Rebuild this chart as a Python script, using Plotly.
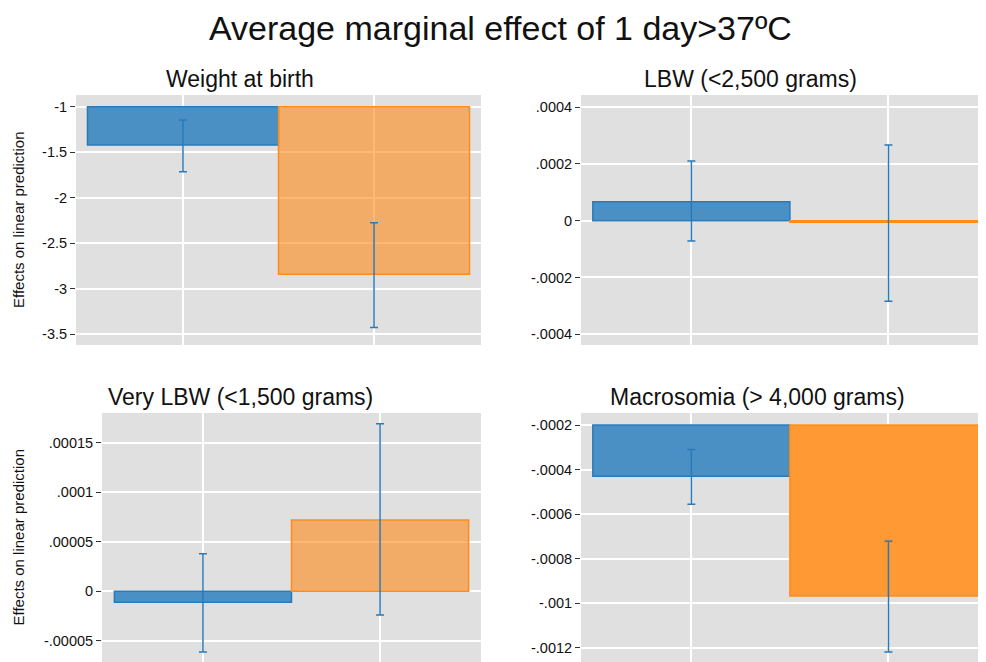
import plotly.graph_objects as go

# ---------------- data ----------------
panel_titles = ["Weight at birth", "LBW (<2,500 grams)",
                "Very LBW (<1,500 grams)", "Macrosomia (> 4,000 grams)"]
categories = [1, 2]

blue_est = [-1.421, 0.000067, -0.0000111, -0.00043]
blue_lo = [-1.714, -0.0000715, -0.0000614, -0.000555]
blue_hi = [-1.146, 0.000210, 0.0000377, -0.00031]

orange_est = [-2.839, -0.000005, 0.0000719, -0.000967]
orange_lo = [-3.424, -0.000284, -0.000024, -0.001218]
orange_hi = [-2.275, 0.000267, 0.0001692, -0.000721]

bar_base = [-1, 0, 0, -0.0002]

tick_vals = [
    [-1, -1.5, -2, -2.5, -3, -3.5],
    [0.0004, 0.0002, 0, -0.0002, -0.0004],
    [0.00015, 0.0001, 0.00005, 0, -0.00005],
    [-0.0002, -0.0004, -0.0006, -0.0008, -0.001, -0.0012],
]
tick_text = [
    ["-1", "-1.5", "-2", "-2.5", "-3", "-3.5"],
    [".0004", ".0002", "0", "-.0002", "-.0004"],
    [".00015", ".0001", ".00005", "0", "-.00005"],
    ["-.0002", "-.0004", "-.0006", "-.0008", "-.001", "-.0012"],
]

main_title = "Average marginal effect of 1 day>37ºC"
ytitle = "Effects on linear prediction"

# ---------------- layout / style ----------------
OFF = 8  # page body margin offset
W, H = 986 - OFF, 662 - OFF
FONT = "Liberation Sans, Arial, Helvetica, sans-serif"
BLUE_FILL = "#4a90c4"
BLUE_LINE = "#2a7ab8"
ERR_COLOR = "#2a7ab8"
ORANGE_LINE = "#ff8c1a"
orange_fill = ["rgba(255,140,30,0.62)", "rgba(255,140,30,0.62)",
               "rgba(255,140,30,0.62)", "#ff9933"]


def px(v):
    return v - OFF


# pixel boxes in screen coords (left, right, top, bottom)
boxes = [(76, 481, 95, 345), (581, 986, 95, 345),
         (102, 481, 413, 662), (581, 986, 413, 662)]
x_ranges = [[0.44, 2.56], [0.44, 2.495], [0.43, 2.57], [0.44, 2.495]]
y_ranges = [[-3.617, -0.872], [-0.000438, 0.000443],
            [-0.0000716, 0.00018], [-0.001263, -0.000146]]

fig = go.Figure()
layout = dict(
    width=W, height=H, margin=dict(l=0, r=0, t=0, b=0),
    paper_bgcolor="white", plot_bgcolor="#e0e0e0",
    showlegend=False, barmode="overlay",
    font=dict(family=FONT, color="#111111"),
)
annotations = []

for i in range(4):
    sfx = "" if i == 0 else str(i + 1)
    xa, ya = "x" + sfx, "y" + sfx
    l, r, t, b = [px(v) for v in boxes[i]]
    layout["xaxis" + sfx] = dict(
        domain=[l / W, min(r / W, 1)], range=x_ranges[i], anchor=ya,
        tickvals=categories, showticklabels=False, ticks="",
        showgrid=True, gridcolor="white", gridwidth=1.5,
        zeroline=False, showline=False, fixedrange=True,
    )
    layout["yaxis" + sfx] = dict(
        domain=[max(1 - b / H, 0), 1 - t / H], range=y_ranges[i], anchor=xa,
        tickvals=tick_vals[i], ticktext=tick_text[i],
        ticks="outside", ticklen=5, tickwidth=1, tickcolor="#333333",
        tickfont=dict(size=14.5, family=FONT, color="#111111"),
        showgrid=True, gridcolor="white", gridwidth=1.5,
        zeroline=False, showline=False, fixedrange=True,
    )
    base = bar_base[i]
    fig.add_trace(go.Bar(
        x=categories, y=[blue_est[i] - base, 0], base=[base, base],
        width=1, xaxis=xa, yaxis=ya,
        marker=dict(color=[BLUE_FILL, "rgba(0,0,0,0)"],
                    line=dict(color=[BLUE_LINE, "rgba(0,0,0,0)"], width=1.5)),
        hoverinfo="skip",
    ))
    fig.add_trace(go.Bar(
        x=[categories[1]], y=[orange_est[i] - base], base=[base],
        width=1, xaxis=xa, yaxis=ya,
        marker=dict(color=orange_fill[i],
                    line=dict(color=ORANGE_LINE, width=1.5)),
        hoverinfo="skip",
    ))
    est = [blue_est[i], orange_est[i]]
    lo = [blue_lo[i], orange_lo[i]]
    hi = [blue_hi[i], orange_hi[i]]
    fig.add_trace(go.Scatter(
        x=categories, y=est, mode="markers", xaxis=xa, yaxis=ya,
        marker=dict(size=1, opacity=0),
        error_y=dict(type="data", symmetric=False,
                     array=[h - e for h, e in zip(hi, est)],
                     arrayminus=[e - lo_ for e, lo_ in zip(est, lo)],
                     color=ERR_COLOR, thickness=1.5, width=4),
        hoverinfo="skip",
    ))

# subplot titles (screen coords: center x, vertical middle of text)
title_pos = [(240, 79), (750, 79), (240, 397), (757, 397)]
for i, (cx, cy) in enumerate(title_pos):
    annotations.append(dict(
        text=panel_titles[i], x=px(cx) / W, y=1 - px(cy) / H,
        xref="paper", yref="paper",
        xanchor="center", yanchor="middle", showarrow=False,
        font=dict(size=23, family=FONT, color="#111111"),
    ))

# y axis titles (left panels)
for (l, r, t, b) in [boxes[0], boxes[2]]:
    annotations.append(dict(
        text=ytitle, x=px(18) / W, y=1 - px((t + b) / 2) / H,
        xref="paper", yref="paper",
        xanchor="center", yanchor="middle", textangle=-90, showarrow=False,
        font=dict(size=15, family=FONT, color="#111111"),
    ))

# main title (anchored at the top edge of the figure)
annotations.append(dict(
    text=main_title, x=px(500) / W, y=1.0,
    xref="paper", yref="paper",
    xanchor="center", yanchor="top", showarrow=False, borderpad=0,
    font=dict(size=34, family=FONT, color="#111111"),
))

layout["annotations"] = annotations
fig.update_layout(**layout)
fig.write_html("out.html")
